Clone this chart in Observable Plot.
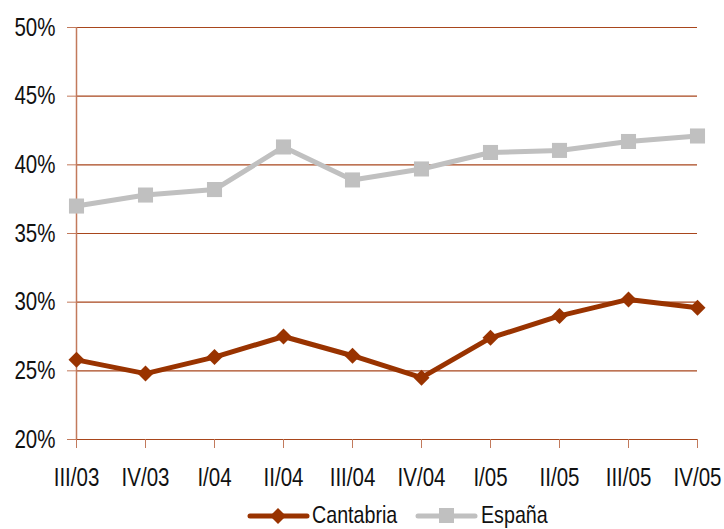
<!DOCTYPE html>
<html><head><meta charset="utf-8">
<script src="https://cdn.jsdelivr.net/npm/d3@7"></script>
<script src="https://cdn.jsdelivr.net/npm/@observablehq/plot@0.6"></script>
<style>
body{margin:0;background:#fff;font-family:"Liberation Sans",Arial,sans-serif;}
#wrap{position:relative;width:724px;height:529px;overflow:hidden;}
#legend{position:absolute;left:0;top:0;width:724px;height:529px;pointer-events:none;}
</style></head>
<body><div id="wrap"><div id="chart"></div><svg id="legend" width="724" height="529"></svg></div>
<script>
const quarters = ["III/03","IV/03","I/04","II/04","III/04","IV/04","I/05","II/05","III/05","IV/05"];
const cantabria = [25.8, 24.8, 26.0, 27.5, 26.1, 24.5, 27.4, 29.0, 30.2, 29.6];
const espana = [37.0, 37.8, 38.2, 41.3, 38.9, 39.7, 40.9, 41.05, 41.7, 42.1];
const yTicks = [20, 25, 30, 35, 40, 45, 50];
const seriesNames = ["Cantabria", "España"];
const colors = ["#993300", "#C0C0C0"];

const rows = [];
quarters.forEach((q, i) => {
  rows.push({q, v: cantabria[i], s: seriesNames[0]});
  rows.push({q, v: espana[i], s: seriesNames[1]});
});
const cRows = rows.filter(d => d.s === seriesNames[0]);
const eRows = rows.filter(d => d.s === seriesNames[1]);
const grid = "#a8461c";
const axisCol = "#c27a5c";

// square-proportioned diamond (rotated square)
const rhombus = {
  draw(ctx, size) {
    const r = Math.sqrt(size / Math.PI);
    ctx.moveTo(0, -r); ctx.lineTo(r, 0); ctx.lineTo(0, r); ctx.lineTo(-r, 0); ctx.closePath();
  }
};

const chart = Plot.plot({
  width: 724, height: 500,
  marginLeft: 76, marginRight: 27, marginTop: 27, marginBottom: 61,
  style: {fontFamily: '"Liberation Sans",Arial,sans-serif', fontSize: "25px", color: "#111", background: "#fff", overflow: "visible"},
  x: {type: "point", domain: quarters, padding: 0, label: null},
  y: {domain: [20, 50], label: null},
  marks: [
    Plot.ruleY(yTicks, {stroke: grid, strokeWidth: 1.2}),
    Plot.ruleX([quarters[0]], {y1: 20, y2: 50, stroke: axisCol, strokeWidth: 1.5}),
    Plot.axisY({ticks: yTicks, tickFormat: d => d + "%", tickSize: 9, tickPadding: 12, stroke: axisCol, fill: "#111", fontSize: 25, label: null}),
    Plot.axisX({tickSize: 9, tickPadding: 20, stroke: axisCol, fill: "#111", fontSize: 25, label: null}),
    Plot.line(eRows, {x: "q", y: "v", stroke: colors[1], strokeWidth: 5}),
    Plot.dot(eRows, {x: "q", y: "v", symbol: "square", r: 8.5, fill: colors[1], stroke: "none"}),
    Plot.line(cRows, {x: "q", y: "v", stroke: colors[0], strokeWidth: 5}),
    Plot.dot(cRows, {x: "q", y: "v", symbol: rhombus, r: 8, fill: colors[0], stroke: "none"})
  ]
});
document.getElementById("chart").appendChild(chart);

// condense text horizontally (narrow face look) around each label's anchor
function condense(root) {
  root.querySelectorAll("text").forEach(t => {
    const b = t.getBBox();
    const anchor = getComputedStyle(t).textAnchor;
    const ax = anchor === "end" ? b.x + b.width : anchor === "middle" ? b.x + b.width / 2 : b.x;
    const tr = t.getAttribute("transform") || "";
    t.setAttribute("transform", `${tr} translate(${ax},0) scale(0.82,1) translate(${-ax},0)`);
  });
}
condense(chart);

// legend
const lg = d3.select("#legend");
const legendItems = [
  {x: 250, tx: 312},
  {x: 418, tx: 481}
];
seriesNames.forEach((name, i) => {
  const {x, tx} = legendItems[i];
  const cy = 516;
  lg.append("line").attr("x1", x).attr("x2", x + 57).attr("y1", cy).attr("y2", cy)
    .attr("stroke", colors[i]).attr("stroke-width", 5).attr("stroke-linecap", "round");
  if (i === 0) {
    lg.append("path").attr("d", `M${x+28},${cy-8} L${x+36},${cy} L${x+28},${cy+8} L${x+20},${cy} Z`).attr("fill", colors[i]);
  } else {
    lg.append("rect").attr("x", x + 21).attr("y", cy - 8).attr("width", 15).attr("height", 15).attr("fill", colors[i]);
  }
  lg.append("text").attr("transform", `translate(${tx},523) scale(0.82,1)`)
    .attr("font-size", 24).attr("fill", "#111").attr("font-family", '"Liberation Sans",Arial,sans-serif')
    .text(name);
});
</script></body></html>
